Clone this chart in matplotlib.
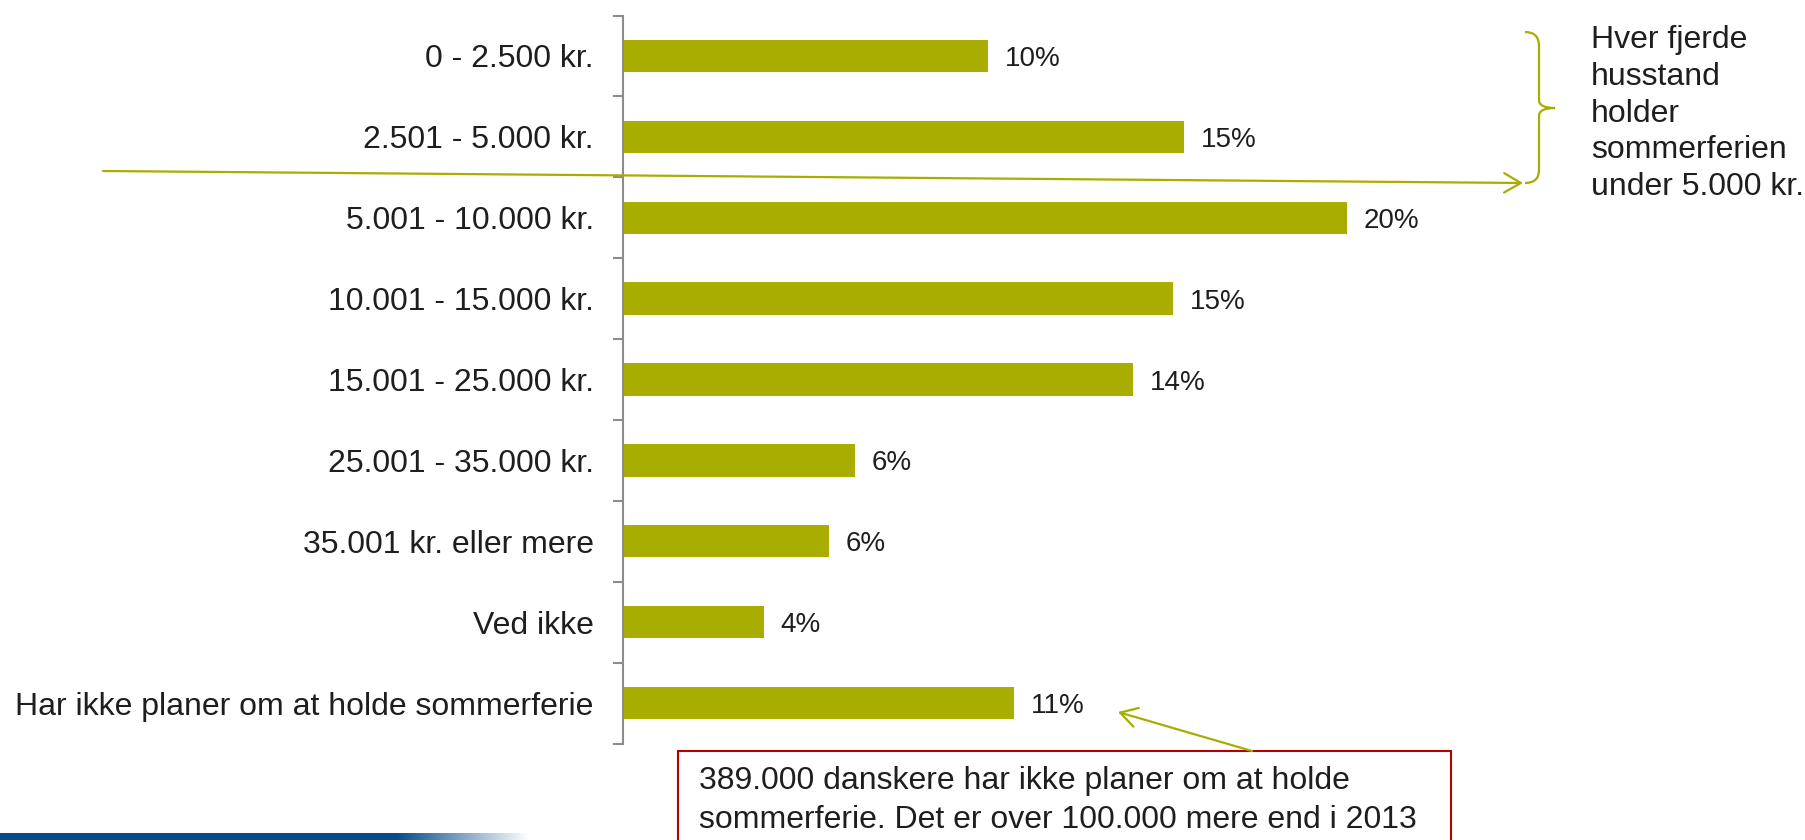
import numpy as np
import matplotlib.pyplot as plt
from matplotlib.patches import FancyArrowPatch, PathPatch, Rectangle
from matplotlib.path import Path

plt.rcParams['font.family'] = ['Liberation Sans', 'DejaVu Sans']

# data
categories = ['0 - 2.500 kr.', '2.501 - 5.000 kr.', '5.001 - 10.000 kr.',
              '10.001 - 15.000 kr.', '15.001 - 25.000 kr.', '25.001 - 35.000 kr.',
              '35.001 kr. eller mere', 'Ved ikke',
              'Har ikke planer om at holde sommerferie']
shares = [10.1, 15.5, 20.0, 15.2, 14.1, 6.4, 5.7, 3.9, 10.8]
share_labels = ['10%', '15%', '20%', '15%', '14%', '6%', '6%', '4%', '11%']

side_note = 'Hver fjerde\nhusstand\nholder\nsommerferien\nunder 5.000 kr.'
box_note = ('389.000 danskere har ikke planer om at holde\n'
            'sommerferie. Det er over 100.000 mere end i 2013')

bar_col = '#A8AD00'
txt_col = '#1E1E1E'
spine_col = '#8C8C8C'
red_col = '#B40000'

W, H = 1805, 840
fig = plt.figure(figsize=(W / 100, H / 100), dpi=100)

# main bar chart
ax = fig.add_axes([623 / W, 1 - 743.5 / H, 910 / W, 728 / H])
y = np.arange(len(categories))
ax.barh(y, shares, height=0.4, color=bar_col)
ax.set_ylim(len(categories) - 0.5, -0.5)
ax.set_xlim(0, 25.15)
ax.set_yticks(y, categories)
ax.set_yticks(np.arange(-0.5, len(categories)), minor=True)
ax.tick_params(axis='y', which='major', length=0, pad=21, labelsize=23, labelcolor=txt_col)
ax.tick_params(axis='y', which='minor', length=7, width=1.5, color=spine_col, direction='out')
ax.set_xticks([])
for s in ['top', 'right', 'bottom']:
    ax.spines[s].set_visible(False)
ax.spines['left'].set_color(spine_col)
ax.spines['left'].set_linewidth(1.5)

for yi, v, lab in zip(y, shares, share_labels):
    ax.annotate(lab, (v, yi), xytext=(12, 0), textcoords='offset points',
                va='center_baseline', ha='left', fontsize=20, color=txt_col)

# overlay in pixel coords for the annotations
ov = fig.add_axes([0, 0, 1, 1], zorder=5)
ov.set_xlim(0, W)
ov.set_ylim(H, 0)
ov.axis('off')
ov.patch.set_alpha(0)

arrow_style = '->,head_length=1.2,head_width=0.7'
ov.add_patch(FancyArrowPatch((103, 171), (1523, 183), arrowstyle=arrow_style,
                             mutation_scale=10, color=bar_col, lw=1.6,
                             shrinkA=0, shrinkB=0))

# curly brace
verts = [(1525, 32), (1539, 32), (1539, 46), (1539, 100), (1539, 108), (1555, 108),
         (1555, 108), (1539, 108), (1539, 116), (1539, 170), (1539, 183), (1525, 183)]
codes = [Path.MOVETO, Path.CURVE3, Path.CURVE3, Path.LINETO, Path.CURVE3, Path.CURVE3,
         Path.MOVETO, Path.CURVE3, Path.CURVE3, Path.LINETO, Path.CURVE3, Path.CURVE3]
ov.add_patch(PathPatch(Path(verts, codes), fill=False, edgecolor=bar_col, lw=1.6))

# baseline of the last line
ov.text(1591, 195, side_note, va='baseline', ha='left', fontsize=23,
        linespacing=1.29, color=txt_col)

# note box at the bottom
ov.add_patch(Rectangle((678, 751), 1451 - 678, 130, facecolor='white',
                       edgecolor=red_col, lw=1.5, clip_on=False))
ov.text(699, 766, box_note, va='top', ha='left', fontsize=23,
        linespacing=1.40, color=txt_col)
ov.add_patch(FancyArrowPatch((1252, 751), (1118, 712), arrowstyle=arrow_style,
                             mutation_scale=10, color=bar_col, lw=1.6,
                             shrinkA=0, shrinkB=0))

# blue footer swoosh
band = fig.add_axes([0, 0, 530 / W, 7 / H], zorder=1)
grad = np.ones((1, 256, 4))
grad[..., 0] = 0.03
grad[..., 1] = 0.30
grad[..., 2] = 0.53
grad[0, :, 3] = np.clip((1.0 - np.linspace(0, 1, 256)) * 4.0, 0, 1)
band.imshow(grad, aspect='auto', extent=(0, 1, 0, 1))
band.axis('off')

fig.savefig('out.png', dpi=100)
